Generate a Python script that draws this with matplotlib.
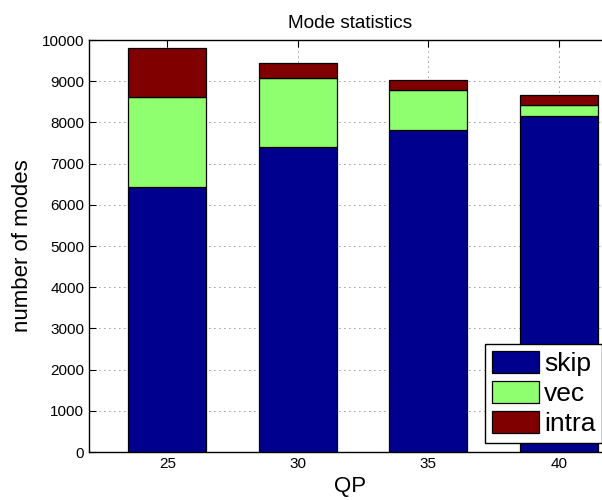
import numpy as np
import matplotlib
matplotlib.use('Agg')
import matplotlib.pyplot as plt

plt.rcParams['font.family'] = ['Liberation Sans', 'DejaVu Sans']

# values
qp = [25, 30, 35, 40]
skip = [6420, 7405, 7815, 8156]
vec = [2200, 1668, 975, 268]
intra = [1195, 367, 243, 251]

labels = ['skip', 'vec', 'intra']
colors = ['#00008F', '#8FFF70', '#800000']

fig = plt.figure(figsize=(6.02, 5.0), dpi=100)
# axes box runs a little past the right edge of the figure, as in the reference
ax = fig.add_axes([89 / 602, 48 / 500, 522 / 602, 412 / 500])

x = np.array(qp, dtype=float)
bottom = np.zeros(len(qp))
for vals, lab, col in zip([skip, vec, intra], labels, colors):
    ax.bar(x, vals, width=3, bottom=bottom, color=col, edgecolor='black',
           linewidth=0.9, label=lab, zorder=2)
    bottom += np.array(vals)

ax.set_xlim(22, 42)
ax.set_ylim(0, 10000)
ax.set_xticks(qp)
ax.set_yticks(np.arange(0, 10001, 1000))
ax.tick_params(direction='in', top=True, right=True, length=5, labelsize=11)
ax.grid(True, linestyle=(0, (1, 5)), color='#333333', linewidth=0.6, zorder=0)
ax.set_axisbelow(True)
for s in ax.spines.values():
    s.set_linewidth(1.0)

ax.set_title('Mode statistics', fontsize=13.7, pad=9)
ax.set_xlabel('QP', fontsize=16, labelpad=4)
ax.set_ylabel('number of modes', fontsize=16, labelpad=6)

leg = ax.legend(loc='lower left', bbox_to_anchor=(396 / 522, 0.022), fontsize=19,
                handlelength=1.8, handleheight=0.9, handletextpad=0.2,
                labelspacing=0.2, borderpad=0.25, borderaxespad=0,
                fancybox=False, framealpha=1)
leg.get_frame().set_edgecolor('black')
leg.get_frame().set_linewidth(1.0)

fig.savefig('out.png', dpi=100)
